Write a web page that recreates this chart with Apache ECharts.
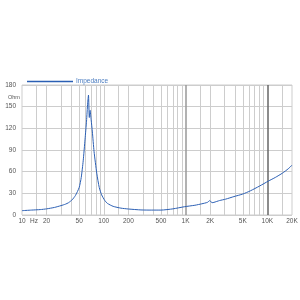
<!DOCTYPE html>
<html>
<head>
<meta charset="utf-8">
<script src="https://cdn.jsdelivr.net/npm/echarts@6/dist/echarts.min.js"></script>
<style>
  html, body { margin: 0; padding: 0; background: #fff; }
  #chart { width: 300px; height: 300px; }
</style>
</head>
<body>
<div id="chart"></div>
<script>
// impedance curve (Hz, Ohm)
const freqs = [10, 13, 16.7, 20, 25, 30, 34, 37, 41, 45, 50, 53, 56, 59, 61.5, 63.5, 65, 66.5, 68, 70, 72.5, 76, 82, 88, 94, 103, 111, 130, 162, 200, 285, 380, 500, 700, 973, 1300, 1580, 1850, 1980, 2100, 2220, 2600, 3100, 3900, 5000, 6200, 8000, 10300, 12500, 15300, 18000, 20000];
const ohms = [6, 6.8, 7.5, 8.5, 10.5, 13, 15, 17, 21, 27, 38, 52, 75, 105, 130, 155, 166, 135, 145, 132, 115, 88, 58, 38, 28, 20, 16, 12, 9.5, 8.3, 7, 6.8, 6.8, 8.5, 11.5, 13.5, 15.5, 17.5, 20, 17, 17.5, 20, 22, 25.5, 29, 33.5, 40, 47, 52, 58, 64, 69];

// vertical grid lines and x tick labels
const gridFreqs = [15, 20, 30, 40, 50, 60, 70, 80, 90, 100, 150, 200, 300, 400, 500, 600, 700, 800, 900, 1000, 1500, 2000, 3000, 4000, 5000, 6000, 7000, 8000, 9000, 10000, 15000];
const darkFreqs = { 1000: '#999', 10000: '#666' };
const tickFreqs = [10, 14, 20, 50, 100, 200, 500, 1000, 2000, 5000, 10000, 20000];
const tickLabels = ['10', 'Hz', '20', '50', '100', '200', '500', '1K', '2K', '5K', '10K', '20K'];
const yTicks = [0, 30, 60, 90, 120, 150, 180];

const chart = echarts.init(document.getElementById('chart'));

const gridLines = gridFreqs.map(f => ({
  xAxis: f,
  lineStyle: darkFreqs[f]
    ? { color: darkFreqs[f], width: 1.5, type: 'solid' }
    : { color: '#cdcdcd', width: 1, type: 'solid' },
  label: { show: false }
}));

const tickMarks = tickFreqs.map((f, i) => ({
  xAxis: f,
  lineStyle: { color: 'rgba(0,0,0,0)', width: 0 },
  label: {
    show: true,
    position: 'start',
    distance: 3,
    formatter: tickLabels[i],
    fontSize: 6.5,
    color: '#555',
    fontFamily: 'Liberation Sans'
  }
}));

chart.setOption({
  animation: false,
  textStyle: { fontFamily: 'Liberation Sans' },
  grid: { left: 22, right: 8, top: 85, bottom: 85, show: true, borderColor: '#cdcdcd', borderWidth: 1 },
  legend: {
    left: 22, top: 73,
    icon: 'rect', itemWidth: 46, itemHeight: 1.5, itemGap: 4,
    textStyle: { fontSize: 6.5, color: '#4a7cc0', padding: [0, 0, 0, -2] },
    data: ['Impedance']
  },
  graphic: [{
    type: 'text', left: 8, top: 94,
    style: { text: 'Ohm', fontSize: 5.5, fill: '#555', fontFamily: 'Liberation Sans' }
  }],
  xAxis: {
    type: 'log', logBase: 10, min: 10, max: 20000,
    axisLabel: { show: false }, axisTick: { show: false },
    axisLine: { show: false }, splitLine: { show: false }, minorSplitLine: { show: false }
  },
  yAxis: {
    type: 'value', min: 0, max: 180, interval: 30,
    axisLabel: { fontSize: 6.5, color: '#555', margin: 6, formatter: v => yTicks.includes(v) ? String(v) : '' },
    axisTick: { show: false }, axisLine: { show: false },
    splitLine: { lineStyle: { color: '#cdcdcd', width: 1 } }
  },
  series: [{
    name: 'Impedance',
    type: 'line',
    data: freqs.map((f, i) => [f, ohms[i]]),
    showSymbol: false,
    smooth: 0.2,
    lineStyle: { color: '#2b5fb4', width: 1 },
    itemStyle: { color: '#2b5fb4' },
    z: 5,
    markLine: {
      silent: true,
      symbol: ['none', 'none'],
      animation: false,
      z: 1,
      data: gridLines.concat(tickMarks)
    }
  }]
});
</script>
</body>
</html>
